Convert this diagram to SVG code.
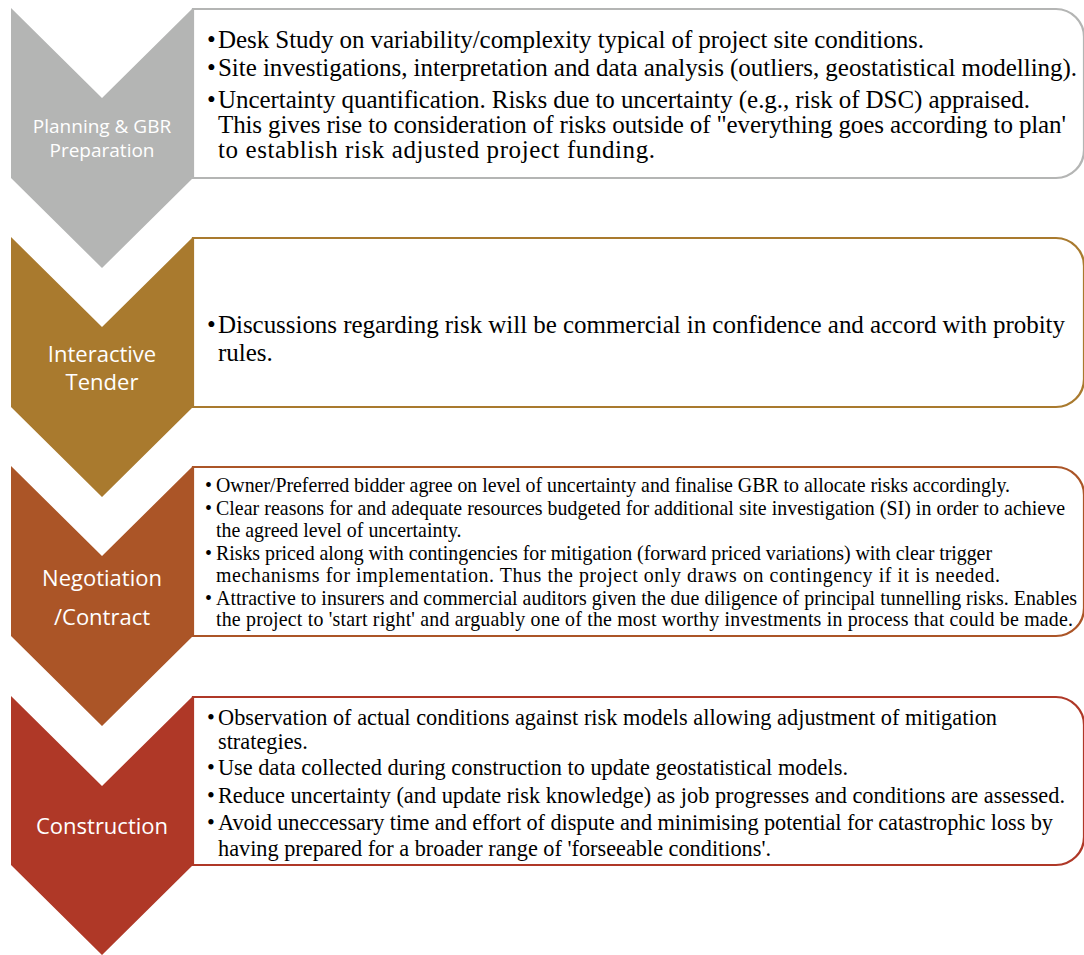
<svg xmlns="http://www.w3.org/2000/svg" width="1084" height="955" viewBox="0 0 1084 955">
  <style>
    .lbl { font-family: "Open Sans", "Noto Sans", sans-serif; fill: #ffffff; text-anchor: middle; }
    .body { font-family: "Liberation Serif", "Times New Roman", serif; fill: #000000; }
    .box { fill: #ffffff; stroke-width: 2.2; }
  </style>
  <rect width="1084" height="955" fill="#ffffff"/>

  <!-- Stage 1: Planning & GBR Preparation -->
  <g id="stage-planning">
    <path class="box" stroke="#b4b5b4" d="M193,9 H1056 A28,28 0 0 1 1084,37 V150 A28,28 0 0 1 1056,178 H193 Z"/>
    <path fill="#b4b5b4" d="M11,8 L102,98 L193,8 V178 L102,268 L11,178 Z"/>
    <text class="lbl" font-size="19" x="102" y="133">Planning &amp; GBR</text>
    <text class="lbl" font-size="19" x="102" y="157">Preparation</text>
    <g class="body" font-size="25">
      <text x="207" y="48">•</text><text x="218" y="48" textLength="706" lengthAdjust="spacing">Desk Study on variability/complexity typical of project site conditions.</text>
      <text x="207" y="76">•</text><text x="218" y="76" textLength="859" lengthAdjust="spacing">Site investigations, interpretation and data analysis (outliers, geostatistical modelling).</text>
      <text x="207" y="108">•</text><text x="218" y="108" textLength="812" lengthAdjust="spacing">Uncertainty quantification. Risks due to uncertainty (e.g., risk of DSC) appraised.</text>
      <text x="218" y="133" textLength="848" lengthAdjust="spacing">This gives rise to consideration of risks outside of "everything goes according to plan'</text>
      <text x="218" y="158" textLength="437" lengthAdjust="spacing">to establish risk adjusted project funding.</text>
    </g>
  </g>

  <!-- Stage 2: Interactive Tender -->
  <g id="stage-tender">
    <path class="box" stroke="#a97a2e" d="M193,238 H1056 A28,28 0 0 1 1084,266 V379 A28,28 0 0 1 1056,407 H193 Z"/>
    <path fill="#a97a2e" d="M11,237 L102,327 L193,237 V407 L102,497 L11,407 Z"/>
    <text class="lbl" font-size="22" x="102" y="362">Interactive</text>
    <text class="lbl" font-size="22" x="102" y="390">Tender</text>
    <g class="body" font-size="25">
      <text x="207" y="333">•</text><text x="218" y="333" textLength="847" lengthAdjust="spacing">Discussions regarding risk will be commercial in confidence and accord with probity</text>
      <text x="218" y="361">rules.</text>
    </g>
  </g>

  <!-- Stage 3: Negotiation / Contract -->
  <g id="stage-negotiation">
    <path class="box" stroke="#ab5527" d="M193,467 H1056 A28,28 0 0 1 1084,495 V608 A28,28 0 0 1 1056,636 H193 Z"/>
    <path fill="#ab5527" d="M11,466 L102,556 L193,466 V636 L102,726 L11,636 Z"/>
    <text class="lbl" font-size="22" x="102" y="586">Negotiation</text>
    <text class="lbl" font-size="22" x="102" y="625">/Contract</text>
    <g class="body" font-size="19.9" xml:space="preserve">
      <text x="205" y="492">•</text><text x="216" y="492" textLength="794" lengthAdjust="spacing">Owner/Preferred bidder agree on level of uncertainty and finalise GBR to allocate risks accordingly.</text>
      <text x="205" y="515">•</text><text x="216" y="515" textLength="849" lengthAdjust="spacing">Clear reasons for and adequate resources budgeted for additional site investigation (SI) in order to achieve</text>
      <text x="216" y="537">the agreed level of uncertainty.</text>
      <text x="205" y="560">•</text><text x="216" y="560" textLength="776" lengthAdjust="spacing">Risks priced along with contingencies for mitigation (forward priced variations) with clear trigger</text>
      <text x="216" y="582" textLength="784" lengthAdjust="spacing">mechanisms for implementation.  Thus the project only draws on contingency if it is needed.</text>
      <text x="205" y="605">•</text><text x="216" y="605" textLength="861" lengthAdjust="spacing">Attractive to insurers and commercial auditors given the due diligence of principal tunnelling risks.  Enables</text>
      <text x="216" y="626" textLength="857" lengthAdjust="spacing">the project to 'start right' and arguably one of the most worthy investments in process that could be made.</text>
    </g>
  </g>

  <!-- Stage 4: Construction -->
  <g id="stage-construction">
    <path class="box" stroke="#af3827" d="M193,697 H1056 A28,28 0 0 1 1084,725 V837 A28,28 0 0 1 1056,865 H193 Z"/>
    <path fill="#af3827" d="M11,696 L102,786 L193,696 V865 L102,955 L11,865 Z"/>
    <text class="lbl" font-size="22" x="102" y="834">Construction</text>
    <g class="body" font-size="22.3">
      <text x="207" y="725">•</text><text x="218" y="725" textLength="779" lengthAdjust="spacing">Observation of actual conditions against risk models allowing adjustment of mitigation</text>
      <text x="218" y="749">strategies.</text>
      <text x="207" y="775">•</text><text x="218" y="775" textLength="630" lengthAdjust="spacing">Use data collected during construction to update geostatistical models.</text>
      <text x="207" y="803">•</text><text x="218" y="803" textLength="847" lengthAdjust="spacing">Reduce uncertainty (and update risk knowledge) as job progresses and conditions are assessed.</text>
      <text x="207" y="830">•</text><text x="218" y="830" textLength="835" lengthAdjust="spacing">Avoid uneccessary time and effort of dispute and minimising potential for catastrophic loss by</text>
      <text x="218" y="856" textLength="553" lengthAdjust="spacing">having prepared for a broader range of 'forseeable conditions'.</text>
    </g>
  </g>
</svg>
